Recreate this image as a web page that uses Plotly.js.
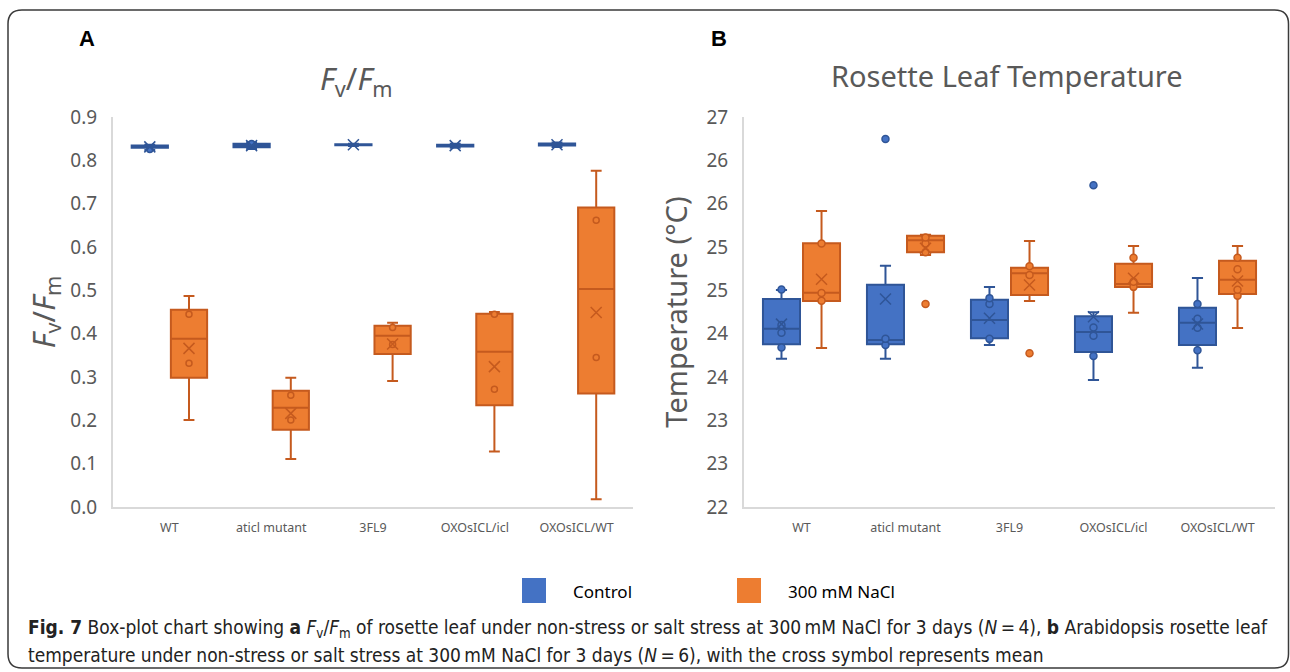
<!DOCTYPE html>
<html><head><meta charset="utf-8">
<script src="https://cdn.plot.ly/plotly-3.0.1.min.js"></script>
<style>html,body{margin:0;padding:0;background:#fff}#chart{width:1290px;height:672px}</style>
</head><body><div id="chart"></div>
<script>
const categories = ['WT', 'aticl mutant', '3FL9', 'OXOsICL/icl', 'OXOsICL/WT'];

// ---- Panel A: Fv/Fm (N = 4) ----
const fvfmCtrlLower  = [0.824, 0.826, 0.833, 0.829, 0.831];
const fvfmCtrlQ1     = [0.829, 0.830, 0.835, 0.832, 0.834];
const fvfmCtrlMedian = [0.832, 0.834, 0.836, 0.834, 0.836];
const fvfmCtrlQ3     = [0.834, 0.838, 0.837, 0.836, 0.839];
const fvfmCtrlUpper  = [0.836, 0.842, 0.838, 0.838, 0.841];
const fvfmCtrlMean   = [0.831, 0.834, 0.836, 0.834, 0.836];
const fvfmCtrlPointCats = ['WT', 'aticl mutant'];
const fvfmCtrlPointVals = [0.825, 0.839];

const fvfmSaltLower  = [0.201, 0.111, 0.291, 0.128, 0.018];
const fvfmSaltQ1     = [0.298, 0.178, 0.353, 0.235, 0.262];
const fvfmSaltMedian = [0.388, 0.229, 0.395, 0.358, 0.503];
const fvfmSaltQ3     = [0.455, 0.268, 0.418, 0.446, 0.691];
const fvfmSaltUpper  = [0.487, 0.298, 0.425, 0.450, 0.776];
const fvfmSaltMean   = [0.366, 0.216, 0.376, 0.324, 0.449];
const fvfmSaltPointCats = ['WT', 'WT', 'aticl mutant', 'aticl mutant', '3FL9', '3FL9',
                           'OXOsICL/icl', 'OXOsICL/icl', 'OXOsICL/WT', 'OXOsICL/WT'];
const fvfmSaltPointVals = [0.445, 0.332, 0.258, 0.201, 0.414, 0.375, 0.445, 0.272, 0.662, 0.345];

// ---- Panel B: rosette leaf temperature (N = 6) ----
const tempTickVals = [22, 22.5, 23, 23.5, 24, 24.5, 25, 25.5, 26, 26.5];
const tempTickText = ['22', '23', '23', '24', '24', '25', '25', '26', '26', '27'];

const tempCtrlLower  = [23.711, 23.711, 23.869, 23.465, 23.607];
const tempCtrlQ1     = [23.877, 23.877, 23.946, 23.788, 23.869];
const tempCtrlMedian = [24.057, 23.927, 24.158, 24.019, 24.127];
const tempCtrlQ3     = [24.400, 24.565, 24.392, 24.200, 24.300];
const tempCtrlUpper  = [24.504, 24.784, 24.538, 24.247, 24.642];
const tempCtrlMean   = [24.110, 24.400, 24.177, 24.196, 24.112];
const tempCtrlPointCats = ['WT', 'WT', 'WT', 'WT', 'aticl mutant', 'aticl mutant',
                           '3FL9', '3FL9', '3FL9', 'OXOsICL/icl', 'OXOsICL/icl', 'OXOsICL/icl',
                           'OXOsICL/WT', 'OXOsICL/WT', 'OXOsICL/WT', 'OXOsICL/WT'];
const tempCtrlPointVals = [24.51, 24.10, 24.01, 23.84, 23.94, 23.87,
                           24.41, 24.342, 23.94, 24.07, 23.977, 23.742,
                           24.342, 24.173, 24.069, 23.808];
const tempCtrlOutlierCats = ['aticl mutant', 'OXOsICL/icl'];
const tempCtrlOutlierVals = [26.246, 25.712];

const tempSaltLower  = [23.835, 24.908, 24.377, 24.242, 24.065];
const tempSaltQ1     = [24.377, 24.939, 24.446, 24.538, 24.458];
const tempSaltMedian = [24.473, 25.077, 24.696, 24.573, 24.623];
const tempSaltQ3     = [25.043, 25.130, 24.761, 24.807, 24.842];
const tempSaltUpper  = [25.415, 25.142, 25.069, 25.011, 25.011];
const tempSaltMean   = [24.627, 24.985, 24.561, 24.639, 24.608];
const tempSaltPointCats = ['WT', 'WT', 'WT', 'aticl mutant', 'aticl mutant', 'aticl mutant',
                           '3FL9', '3FL9', 'OXOsICL/icl', 'OXOsICL/icl', 'OXOsICL/icl',
                           'OXOsICL/WT', 'OXOsICL/WT', 'OXOsICL/WT', 'OXOsICL/WT'];
const tempSaltPointVals = [25.04, 24.47, 24.38, 25.11, 25.04, 24.94,
                           24.777, 24.677, 24.877, 24.60, 24.54,
                           24.877, 24.742, 24.507, 24.438];
const tempSaltOutlierCats = ['aticl mutant', '3FL9'];
const tempSaltOutlierVals = [24.342, 23.773];

// ---- styles ----
const W = 1290, H = 672;
const FONT = 'Noto Sans, Open Sans, sans-serif';
const CAPFONT = 'Liberation Sans Narrow, DejaVu Sans Condensed, sans-serif';
const GREY = '#595959';
const CTRL = {fill: '#4472C4', line: '#2F5597', name: 'Control', grp: 'ctrl'};
const SALT = {fill: '#ED7D31', line: '#C55A1E', name: '300 mM NaCl', grp: 'salt'};
const px = x => x / W;
const py = y => 1 - y / H;

function boxTrace(s, xa, ya, align, lo, q1, med, q3, up) {
  return {
    type: 'box', name: s.name, x: categories,
    lowerfence: lo, q1: q1, median: med, q3: q3, upperfence: up,
    boxpoints: false, fillcolor: s.fill,
    line: {color: s.line, width: 2}, whiskerwidth: 0.3,
    xaxis: xa, yaxis: ya, offsetgroup: s.grp, alignmentgroup: align,
    showlegend: false
  };
}
function pointTrace(s, xa, ya, align, cats, vals, symbol, size) {
  const isX = symbol.indexOf('x') === 0;
  return {
    type: 'box', name: s.name, x: cats, y: vals,
    boxpoints: 'all', jitter: 0, pointpos: 0, hoveron: 'points',
    fillcolor: 'rgba(0,0,0,0)', line: {color: 'rgba(0,0,0,0)', width: 0},
    marker: {symbol: symbol, size: size, color: isX ? s.line : s.fill,
             line: {color: s.line, width: 1.5}},
    xaxis: xa, yaxis: ya, offsetgroup: s.grp, alignmentgroup: align,
    showlegend: false
  };
}

const data = [
  boxTrace(CTRL, 'x', 'y', 'A', fvfmCtrlLower, fvfmCtrlQ1, fvfmCtrlMedian, fvfmCtrlQ3, fvfmCtrlUpper),
  boxTrace(SALT, 'x', 'y', 'A', fvfmSaltLower, fvfmSaltQ1, fvfmSaltMedian, fvfmSaltQ3, fvfmSaltUpper),
  pointTrace(CTRL, 'x', 'y', 'A', fvfmCtrlPointCats, fvfmCtrlPointVals, 'circle', 6),
  pointTrace(SALT, 'x', 'y', 'A', fvfmSaltPointCats, fvfmSaltPointVals, 'circle', 6),
  pointTrace(CTRL, 'x', 'y', 'A', categories, fvfmCtrlMean, 'x-thin-open', 11),
  pointTrace(SALT, 'x', 'y', 'A', categories, fvfmSaltMean, 'x-thin-open', 11),

  boxTrace(CTRL, 'x2', 'y2', 'B', tempCtrlLower, tempCtrlQ1, tempCtrlMedian, tempCtrlQ3, tempCtrlUpper),
  boxTrace(SALT, 'x2', 'y2', 'B', tempSaltLower, tempSaltQ1, tempSaltMedian, tempSaltQ3, tempSaltUpper),
  pointTrace(CTRL, 'x2', 'y2', 'B', tempCtrlPointCats.concat(tempCtrlOutlierCats),
             tempCtrlPointVals.concat(tempCtrlOutlierVals), 'circle', 7),
  pointTrace(SALT, 'x2', 'y2', 'B', tempSaltPointCats.concat(tempSaltOutlierCats),
             tempSaltPointVals.concat(tempSaltOutlierVals), 'circle', 7),
  pointTrace(CTRL, 'x2', 'y2', 'B', categories, tempCtrlMean, 'x-thin-open', 11),
  pointTrace(SALT, 'x2', 'y2', 'B', categories, tempSaltMean, 'x-thin-open', 11)
];

const xCommon = {
  type: 'category', showline: true, linecolor: '#d9d9d9', linewidth: 2,
  showgrid: false, zeroline: false, ticks: '', ticklabelstandoff: 8,
  tickfont: {family: FONT, size: 12.5, color: GREY}, fixedrange: true
};
const yCommon = {
  showline: true, linecolor: '#d9d9d9', linewidth: 2, showgrid: false, zeroline: false,
  ticks: '', ticklabelstandoff: 10, tickfont: {family: FONT, size: 19, color: GREY},
  fixedrange: true
};

const frame = (() => {
  const l = 8, t = 10, r = 1288.5, b = 668, rad = 14;
  return 'M ' + px(l + rad) + ' ' + py(t) +
    ' L ' + px(r - rad) + ' ' + py(t) + ' Q ' + px(r) + ' ' + py(t) + ' ' + px(r) + ' ' + py(t + rad) +
    ' L ' + px(r) + ' ' + py(b - rad) + ' Q ' + px(r) + ' ' + py(b) + ' ' + px(r - rad) + ' ' + py(b) +
    ' L ' + px(l + rad) + ' ' + py(b) + ' Q ' + px(l) + ' ' + py(b) + ' ' + px(l) + ' ' + py(b - rad) +
    ' L ' + px(l) + ' ' + py(t + rad) + ' Q ' + px(l) + ' ' + py(t) + ' ' + px(l + rad) + ' ' + py(t) + ' Z';
})();

function note(x, y, text, font, xanchor) {
  return {xref: 'paper', yref: 'paper', x: px(x), y: py(y), text: text, showarrow: false,
          xanchor: xanchor || 'center', yanchor: 'middle', align: 'left', font: font};
}

const layout = {
  width: W, height: H, margin: {l: 0, r: 0, t: 0, b: 0},
  paper_bgcolor: '#fff', plot_bgcolor: '#fff', showlegend: false,
  boxmode: 'group', boxgap: 0.23, boxgroupgap: 0.075,
  font: {family: FONT, color: GREY},
  xaxis: Object.assign({}, xCommon, {domain: [px(113), px(633)], anchor: 'y'}),
  yaxis: Object.assign({}, yCommon, {
    domain: [py(507), py(117)], anchor: 'x', range: [0, 0.9], dtick: 0.1, tick0: 0,
    tickformat: '.1f',
    title: {text: '<i>F</i><sub>v</sub>/<i>F</i><sub>m</sub>', font: {family: FONT, size: 31, color: GREY}, standoff: 6}
  }),
  xaxis2: Object.assign({}, xCommon, {domain: [px(744), px(1275)], anchor: 'y2'}),
  yaxis2: Object.assign({}, yCommon, {
    domain: [py(507), py(117)], anchor: 'x2', range: [22, 26.5],
    tickmode: 'array', tickvals: tempTickVals, ticktext: tempTickText,
    title: {text: 'Temperature (°C)', font: {family: FONT, size: 29, color: GREY}, standoff: 10}
  }),
  shapes: [
    {type: 'path', xref: 'paper', yref: 'paper', path: frame, line: {color: '#3a3a3a', width: 1.5}},
    {type: 'rect', xref: 'paper', yref: 'paper', x0: px(522), x1: px(546), y0: py(603), y1: py(578),
     fillcolor: CTRL.fill, line: {width: 0}},
    {type: 'rect', xref: 'paper', yref: 'paper', x0: px(737), x1: px(761), y0: py(603), y1: py(578),
     fillcolor: SALT.fill, line: {width: 0}}
  ],
  annotations: [
    note(87, 38, '<b>A</b>', {family: 'Liberation Sans, Arial, sans-serif', size: 22, color: '#000'}),
    note(719, 38, '<b>B</b>', {family: 'Liberation Sans, Arial, sans-serif', size: 22, color: '#000'}),
    note(356, 80, '<i>F</i><sub>v</sub>/<i>F</i><sub>m</sub>', {family: FONT, size: 31, color: GREY}),
    note(1007, 75, 'Rosette Leaf Temperature', {family: FONT, size: 29, color: GREY}),
    note(571, 591, 'Control', {family: FONT, size: 17, color: '#000'}, 'left'),
    note(786, 591, '300 mM NaCl', {family: FONT, size: 17, color: '#000'}, 'left'),
    note(26, 628, '<b>Fig. 7</b> Box-plot chart showing <b>a</b> <i>F</i><sub>v</sub>/<i>F</i><sub>m</sub> of rosette leaf under non-stress or salt stress at 300\u2009mM NaCl for 3 days (<i>N</i>\u2009=\u20094), <b>b</b> Arabidopsis rosette leaf',
         {family: CAPFONT, size: 19, color: '#222'}, 'left'),
    note(26, 655, 'temperature under non-stress or salt stress at 300\u2009mM NaCl for 3 days (<i>N</i>\u2009=\u20096), with the cross symbol represents mean',
         {family: CAPFONT, size: 19, color: '#222'}, 'left')
  ]
};

Plotly.newPlot('chart', data, layout, {displayModeBar: false, staticPlot: true});
</script>
</body></html>
